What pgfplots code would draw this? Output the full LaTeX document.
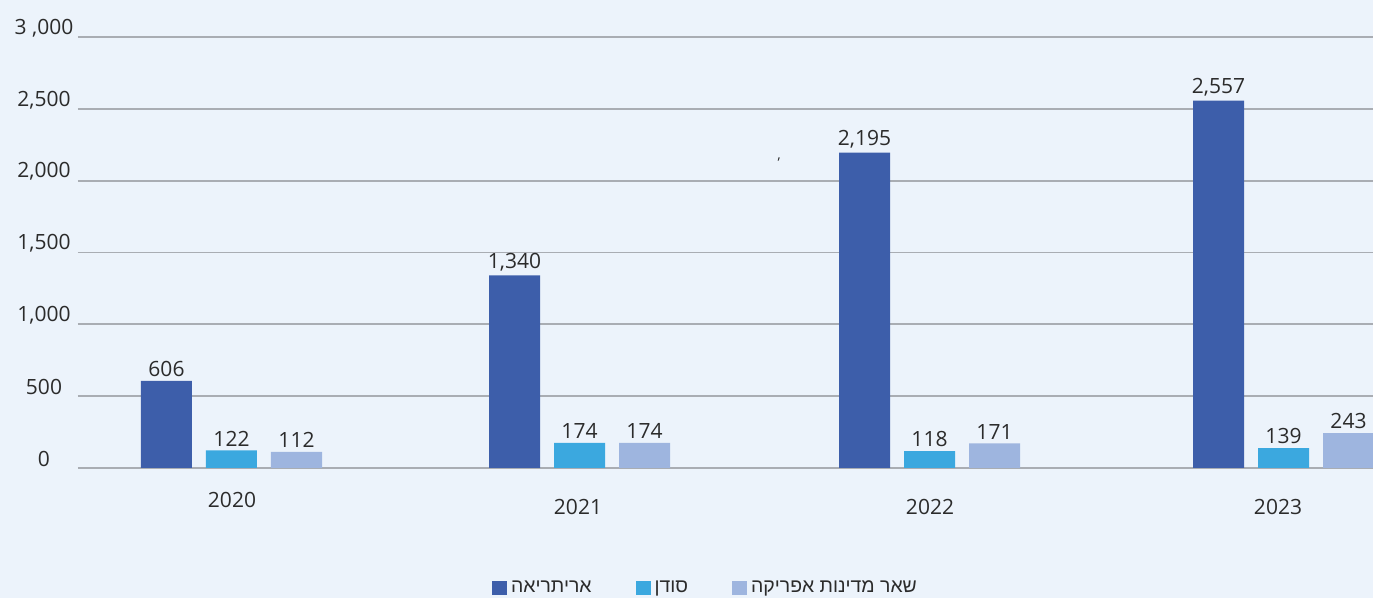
\documentclass[border=0pt]{standalone}
\usepackage{fontspec}
\setmainfont{Open Sans}
\newfontfamily\hebfont[Script=Hebrew]{Liberation Sans}
\TeXXeTstate=1
\usepackage{pgfplots}
\pgfplotsset{compat=1.18}
\definecolor{bg}{HTML}{ECF3FB}
\definecolor{cEri}{HTML}{3D5EAA}
\definecolor{cSud}{HTML}{3BA8DF}
\definecolor{cOth}{HTML}{9EB5DF}
\definecolor{gridc}{HTML}{A9ADB3}
\definecolor{txt}{HTML}{2B2B2B}
\begin{document}
\begin{tikzpicture}[font=\fontsize{10.5}{12.5}\selectfont, text=txt]
\fill[bg] (-39pt,-65pt) rectangle (647.5pt,234pt);
\begin{axis}[
  scale only axis,
  width=647.5pt, height=215.5pt,
  xmin=78, xmax=1373, ymin=0, ymax=3000,
  axis line style={draw=none},
  major tick length=0pt,
  clip=false,
  ybar, bar width=25.5pt,
  ytick={0,500,1000,1500,2000,2500,3000},
  yticklabels={0,500,{1,000},{1,500},{2,000},{2,500},{3 ,000}},
  yticklabel style={anchor=center, xshift=-17pt, yshift=4.5pt},
  ymajorgrids, grid style={gridc, line width=0.9pt},
  xtick={232,578,930,1278},
  xticklabels={\raisebox{3.5pt}{2020},2021,2022,2023},
  xticklabel style={anchor=base, yshift=-23.5pt},
  tick label style={font=\fontsize{10.5}{12.5}\selectfont, text=txt},
  /pgf/number format/assume math mode=true,
  /pgf/number format/1000 sep={,},
  nodes near coords,
  nodes near coords style={font=\fontsize{10.5}{12.5}\selectfont, text=txt, inner sep=2pt},
  legend columns=3,
  legend style={at={(0.4853,-0.278)}, anchor=center, draw=none, fill=none,
    font=\hebfont\fontsize{9.7}{11.5}\selectfont, text=txt,
    /tikz/every even column/.append style={column sep=20pt},
    /tikz/every odd column/.append style={column sep=0pt}},
  legend cell align=left,
]
\addplot[fill=cEri, draw=none, bar shift=-32.5pt,
  legend image code/.code={\fill[cEri] (0pt,-3.5pt) rectangle (7.5pt,3.5pt);}]
  coordinates {(231.5,606) (579.5,1340) (929.5,2195) (1283.5,2557)};
\addlegendentry{\beginR אריתריאה\endR}
\addplot[fill=cSud, draw=none, bar shift=0pt,
  legend image code/.code={\fill[cSud] (0pt,-3.5pt) rectangle (7.5pt,3.5pt);}]
  coordinates {(231.5,122) (579.5,174) (929.5,118) (1283.5,139)};
\addlegendentry{\beginR סודן\endR}
\addplot[fill=cOth, draw=none, bar shift=32.5pt,
  legend image code/.code={\fill[cOth] (0pt,-3.5pt) rectangle (7.5pt,3.5pt);}]
  coordinates {(231.5,112) (579.5,174) (929.5,171) (1283.5,243)};
\addlegendentry{\beginR שאר מדינות אפריקה\endR}
\node[font=\fontsize{7}{8}\selectfont, text=txt] at (axis cs:779,2150) {,};
\end{axis}
\pgfresetboundingbox
\path[use as bounding box] (-39pt,-65pt) rectangle (647.5pt,234pt);
\end{tikzpicture}
\end{document}
